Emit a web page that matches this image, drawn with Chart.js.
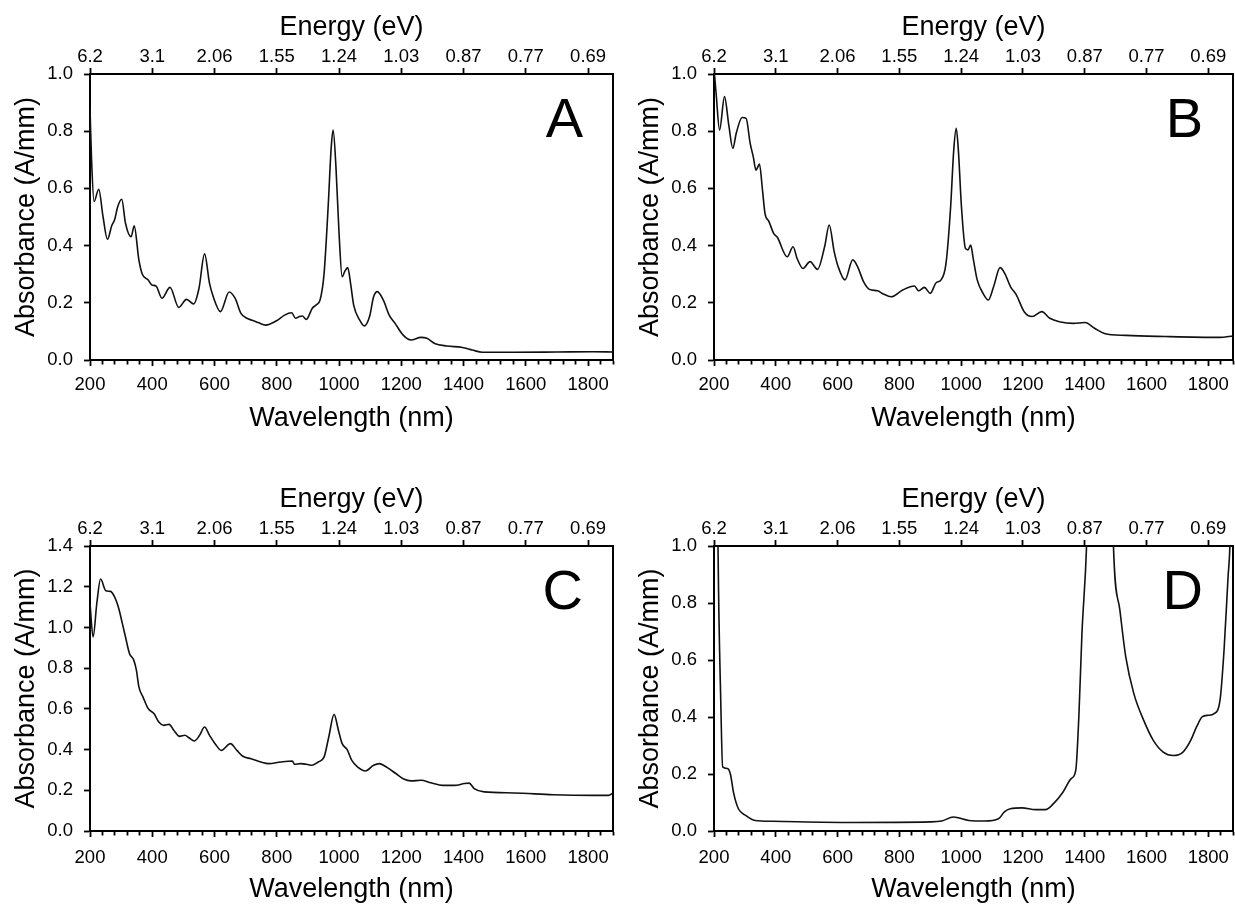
<!DOCTYPE html>
<html>
<head>
<meta charset="utf-8">
<script src="https://cdn.jsdelivr.net/npm/chart.js@4/dist/chart.umd.min.js"></script>
<style>
  html, body { margin: 0; padding: 0; background: #fff; overflow: hidden; }
  canvas { position: absolute; }
</style>
</head>
<body>
<canvas id="panelA" width="625" height="440" style="left:0px;top:0px"></canvas>
<canvas id="panelB" width="621" height="440" style="left:624px;top:0px"></canvas>
<canvas id="panelC" width="625" height="435" style="left:0px;top:472px"></canvas>
<canvas id="panelD" width="621" height="435" style="left:624px;top:472px"></canvas>
<script>
// top axis labels (eV) sit on the same positions as 200, 400, ... 1800 nm
const energyLabels = ['6.2', '3.1', '2.06', '1.55', '1.24', '1.03', '0.87', '0.77', '0.69'];

const wlA = [200, 205, 213, 228, 242, 256, 270, 279, 289, 302, 314, 332, 342, 357, 368, 387, 399, 412, 431, 457, 485, 510, 533, 550, 568, 584, 596, 619, 647, 666, 685, 704, 723, 742, 764, 799, 825, 848, 860, 873, 882, 895, 914, 926, 939, 952, 965, 975, 981, 990, 1000, 1010, 1018, 1028, 1037, 1047, 1066, 1081, 1098, 1111, 1123, 1142, 1161, 1180, 1206, 1231, 1263, 1282, 1307, 1346, 1396, 1428, 1460, 1561, 1700, 1815, 1880];
const absA = [0.88, 0.70, 0.554, 0.597, 0.50, 0.422, 0.47, 0.49, 0.536, 0.562, 0.478, 0.431, 0.469, 0.35, 0.30, 0.28, 0.262, 0.259, 0.216, 0.254, 0.184, 0.212, 0.196, 0.25, 0.371, 0.268, 0.221, 0.169, 0.238, 0.216, 0.163, 0.146, 0.138, 0.13, 0.122, 0.137, 0.157, 0.165, 0.146, 0.152, 0.154, 0.142, 0.181, 0.192, 0.21, 0.303, 0.536, 0.746, 0.804, 0.676, 0.443, 0.291, 0.309, 0.323, 0.268, 0.192, 0.14, 0.119, 0.152, 0.221, 0.239, 0.21, 0.157, 0.128, 0.087, 0.07, 0.079, 0.076, 0.058, 0.049, 0.044, 0.035, 0.027, 0.027, 0.028, 0.029, 0.028];

const wlB = [200, 207, 218, 234, 248, 261, 272, 291, 304, 317, 327, 336, 347, 357, 365, 378, 393, 405, 437, 456, 469, 488, 511, 535, 558, 573, 589, 602, 624, 649, 665, 684, 703, 729, 748, 773, 811, 849, 862, 881, 900, 919, 935, 951, 966, 976, 984, 991, 1001, 1014, 1022, 1031, 1039, 1052, 1071, 1088, 1105, 1126, 1141, 1160, 1179, 1204, 1230, 1261, 1287, 1318, 1363, 1401, 1432, 1464, 1534, 1661, 1838, 1880];
const absB = [1.02, 0.93, 0.804, 0.921, 0.82, 0.74, 0.793, 0.848, 0.845, 0.758, 0.711, 0.664, 0.685, 0.594, 0.513, 0.484, 0.443, 0.429, 0.361, 0.396, 0.355, 0.32, 0.344, 0.317, 0.396, 0.472, 0.379, 0.326, 0.28, 0.35, 0.326, 0.274, 0.247, 0.242, 0.231, 0.221, 0.245, 0.259, 0.242, 0.254, 0.233, 0.27, 0.28, 0.338, 0.536, 0.734, 0.81, 0.734, 0.536, 0.39, 0.385, 0.402, 0.355, 0.28, 0.233, 0.21, 0.256, 0.323, 0.303, 0.256, 0.227, 0.169, 0.152, 0.169, 0.146, 0.134, 0.128, 0.131, 0.111, 0.093, 0.086, 0.082, 0.079, 0.084];

const wlC = [200, 210, 222, 234, 251, 266, 279, 291, 304, 314, 327, 340, 349, 357, 370, 387, 406, 421, 437, 454, 469, 488, 505, 518, 535, 552, 568, 584, 603, 622, 651, 672, 691, 717, 749, 774, 812, 850, 857, 876, 895, 914, 933, 952, 967, 984, 998, 1010, 1026, 1041, 1060, 1085, 1111, 1130, 1155, 1180, 1206, 1231, 1263, 1295, 1333, 1371, 1403, 1418, 1434, 1466, 1561, 1688, 1815, 1866, 1880];
const absC = [1.117, 0.953, 1.12, 1.238, 1.18, 1.177, 1.15, 1.10, 1.019, 0.953, 0.871, 0.842, 0.79, 0.708, 0.659, 0.601, 0.576, 0.535, 0.519, 0.524, 0.495, 0.465, 0.47, 0.458, 0.442, 0.47, 0.511, 0.47, 0.426, 0.396, 0.429, 0.396, 0.367, 0.355, 0.339, 0.331, 0.339, 0.344, 0.328, 0.331, 0.328, 0.323, 0.339, 0.364, 0.462, 0.573, 0.495, 0.429, 0.40, 0.347, 0.314, 0.295, 0.323, 0.331, 0.311, 0.285, 0.257, 0.246, 0.249, 0.237, 0.224, 0.224, 0.233, 0.235, 0.208, 0.192, 0.187, 0.178, 0.175, 0.175, 0.187];

const wlD = [200, 213, 222, 228, 244, 253, 264, 279, 302, 333, 391, 645, 898, 937, 975, 1025, 1076, 1121, 1140, 1159, 1197, 1241, 1273, 1299, 1330, 1356, 1371, 1381, 1391, 1406, 1430, 1450, 1475, 1493, 1514, 1533, 1559, 1591, 1622, 1654, 1686, 1718, 1743, 1762, 1781, 1800, 1819, 1838, 1851, 1864, 1870, 1880];
const absD = [3.0, 1.0, 0.45, 0.225, 0.219, 0.2, 0.131, 0.078, 0.055, 0.037, 0.034, 0.03, 0.032, 0.035, 0.049, 0.037, 0.035, 0.043, 0.067, 0.078, 0.081, 0.075, 0.075, 0.096, 0.137, 0.184, 0.213, 0.401, 0.692, 1.0, 2.0, 2.5, 2.0, 1.0, 0.774, 0.61, 0.482, 0.388, 0.318, 0.277, 0.265, 0.277, 0.318, 0.365, 0.401, 0.406, 0.412, 0.459, 0.634, 0.891, 1.0, 1.5];

const FONT = '"Liberation Sans", Arial, sans-serif';

// big letter in the upper right corner of each plot
const panelLetter = {
    id: 'panelLetter',
    afterDraw(chart, args, opts) {
        const {ctx, chartArea} = chart;
        ctx.save();
        ctx.font = '56px ' + FONT;
        ctx.fillStyle = '#000';
        ctx.textAlign = 'right';
        ctx.textBaseline = 'alphabetic';
        ctx.fillText(opts.text, chartArea.right - 30, chartArea.top + 63);
        ctx.restore();
    }
};

function makePanel(id, letter, wl, abs, yMax, sizes) {
    const axisLine = {display: true, color: '#000', width: 2};
    const tickFont = {family: FONT, size: 18.5};
    const titleFont = {family: FONT, size: 27};
    return new Chart(document.getElementById(id), {
        type: 'line',
        data: {
            datasets: [{
                data: wl.map((x, i) => ({x: x, y: abs[i]})),
                borderColor: '#111',
                borderWidth: 1.6,
                pointRadius: 0,
                cubicInterpolationMode: 'monotone',
                fill: false
            }]
        },
        options: {
            responsive: false,
            animation: false,
            layout: {padding: 0},
            plugins: {
                legend: {display: false},
                tooltip: {enabled: false},
                panelLetter: {text: letter}
            },
            scales: {
                x: {
                    type: 'linear', position: 'bottom', min: 200, max: 1880,
                    afterFit: s => { s.height = sizes.bottom; },
                    border: axisLine,
                    grid: {
                        drawOnChartArea: false, tickLength: 6, tickColor: '#000', tickWidth: 1.8,
                        tickBorderDash: c => (c.tick && c.tick.value % 200 === 0) ? [] : [3.5, 20]
                    },
                    ticks: {
                        stepSize: 40, autoSkip: false, maxRotation: 0, minRotation: 0,
                        color: '#000', font: tickFont, padding: sizes.labelPad,
                        callback: v => v % 200 === 0 ? String(v) : ''
                    },
                    title: {display: true, text: 'Wavelength (nm)', color: '#000', font: titleFont,
                        padding: {top: 0, bottom: sizes.titleBottom}}
                },
                x2: {
                    type: 'linear', position: 'top', min: 200, max: 1880,
                    afterFit: s => { s.height = 74; },
                    border: axisLine,
                    grid: {drawOnChartArea: false, tickLength: 6, tickColor: '#000', tickWidth: 1.8},
                    ticks: {
                        stepSize: 200, includeBounds: false, autoSkip: false, maxRotation: 0, minRotation: 0,
                        color: '#000', font: tickFont, padding: 0,
                        callback: v => energyLabels[Math.round((v - 200) / 200)] || ''
                    },
                    title: {display: true, text: 'Energy (eV)', color: '#000', font: titleFont,
                        padding: {top: 11, bottom: 0}}
                },
                y: {
                    type: 'linear', position: 'left', min: 0, max: yMax,
                    afterFit: s => { s.width = 90; },
                    border: axisLine,
                    grid: {drawOnChartArea: false, tickLength: 6, tickColor: '#000', tickWidth: 1.8},
                    ticks: {stepSize: 0.2, color: '#000', font: tickFont, padding: 11,
                        callback: v => v.toFixed(1)},
                    title: {display: true, text: 'Absorbance (A/mm)', color: '#000', font: titleFont,
                        padding: {top: 10, bottom: 0}}
                },
                // right frame line; its width also fixes where the plot ends
                y2: {
                    type: 'linear', position: 'right', min: 0, max: yMax,
                    afterFit: s => { s.width = 12; },
                    border: axisLine,
                    grid: {drawOnChartArea: false, drawTicks: false},
                    ticks: {display: false}
                }
            }
        },
        plugins: [panelLetter]
    });
}

const chartA = makePanel('panelA', 'A', wlA, absA, 1.0, {bottom: 80, titleBottom: 5, labelPad: 8});
const chartB = makePanel('panelB', 'B', wlB, absB, 1.0, {bottom: 80, titleBottom: 5, labelPad: 8});
const chartC = makePanel('panelC', 'C', wlC, absC, 1.4, {bottom: 76, titleBottom: 1, labelPad: 10});
const chartD = makePanel('panelD', 'D', wlD, absD, 1.0, {bottom: 76, titleBottom: 1, labelPad: 10});
</script>
</body>
</html>
